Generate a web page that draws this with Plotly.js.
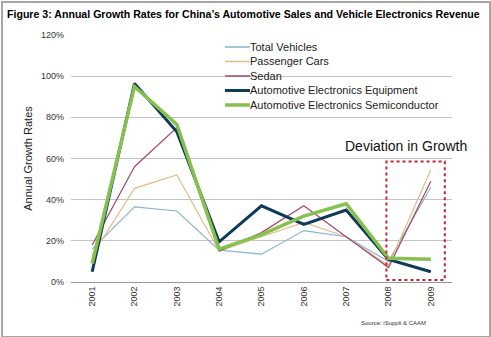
<!DOCTYPE html>
<html>
<head>
<meta charset="utf-8">
<script src="https://cdn.plot.ly/plotly-3.0.1.min.js"></script>
<style>
html,body{margin:0;padding:0;background:#fff;}
#wrap{position:relative;width:491px;height:337px;}
#chart{width:491px;height:337px;}
#frame{position:absolute;left:1px;top:1px;width:486px;height:333px;border:2px solid #a6a6a6;pointer-events:none;}
</style>
</head>
<body>
<div id="wrap"><div id="chart"></div><div id="frame"></div></div>
<script>
const years = ['2001','2002','2003','2004','2005','2006','2007','2008','2009'];
const totalVehicles = [16, 36.5, 34.5, 15.5, 13.5, 25, 22, 10, 46];
const passengerCars = [13, 45.5, 52, 15, 22, 29, 22, 8, 54.5];
const sedan = [18, 56, 75, 15, 24, 37, 22, 7, 49];
const elecEquipment = [5, 96.5, 73, 19.5, 37, 28, 35, 11, 5];
const elecSemis = [9, 95, 76.5, 16, 23, 32, 38, 11.5, 11];

const seriesNames = ['Total Vehicles','Passenger Cars','Sedan','Automotive Electronics Equipment','Automotive Electronics Semiconductor'];
const seriesData = [totalVehicles, passengerCars, sedan, elecEquipment, elecSemis];
const colors = ['#86b6cc','#e2bc88','#a24a6a','#0f3a58','#86c04e'];
const widths = [1.2, 1.2, 1.2, 3, 3.5];

const traces = seriesData.map((d,i)=>({
  x: years, y: d, type:'scatter', mode:'lines', name: seriesNames[i],
  line:{color:colors[i], width:widths[i]}, showlegend:false
}));

// plot-area pixel helpers (for legend placement only)
const L=71, R=452, T=35, B=282;
const px = v => (v-L)/(R-L);
const py = v => (B-v)/(B-T);

const shapes = [
  {type:'rect', xref:'paper', yref:'paper', x0:px(212), x1:px(447), y0:py(112), y1:py(38),
    fillcolor:'#fff', line:{width:0}, layer:'between'},
  {type:'rect', xref:'x', yref:'y', x0:6.95, x1:8.33, y0:1, y1:58.5,
    line:{color:'#c0272d', width:2, dash:'dot'}}
];
const annotations = [
  {text:'Deviation in Growth', xref:'paper', yref:'paper', x:px(469), y:py(146), xanchor:'right', yanchor:'middle',
    showarrow:false, font:{size:14,color:'#111'}},
  {text:'Source: iSuppli & CAAM', xref:'paper', yref:'paper', x:0.938, y:-0.166, xanchor:'right', yanchor:'middle',
    showarrow:false, font:{size:6,color:'#333'}}
];
const rowY = [47, 61.5, 76, 90.5, 105];
seriesNames.forEach((n,i)=>{
  shapes.push({type:'line', xref:'paper', yref:'paper', x0:px(225), x1:px(250), y0:py(rowY[i]), y1:py(rowY[i]),
    line:{color:colors[i], width:widths[i]===1.2?1.5:widths[i]}});
  annotations.push({text:n, xref:'paper', yref:'paper', x:px(250), y:py(rowY[i]), xanchor:'left', yanchor:'middle',
    showarrow:false, font:{size:11,color:'#222'}, xshift:-2});
});

const layout = {
  width:491, height:337,
  margin:{l:71, r:39, t:35, b:55},
  paper_bgcolor:'#fff', plot_bgcolor:'#fff',
  font:{family:'Arial, Liberation Sans, sans-serif', color:'#333'},
  title:{text:'<b>Figure 3: Annual Growth Rates for China\u2019s Automotive Sales and Vehicle Electronics Revenue</b>',
    font:{size:10.6, color:'#000'}, x:7/491, xanchor:'left', xref:'container', y:0.957, yanchor:'middle', yref:'container'},
  xaxis:{type:'category', range:[-0.5,8.5], tickangle:-90, tickfont:{size:9,color:'#333'},
    showgrid:false, showline:true, linecolor:'#999', ticks:'', zeroline:false, fixedrange:true},
  yaxis:{range:[0,120], dtick:20, ticksuffix:'%', tickfont:{size:9,color:'#333'},
    gridcolor:'#c4c4c4', gridwidth:1, zeroline:false, showline:false, ticklabelstandoff:6,
    title:{text:'Annual Growth Rates', font:{size:11,color:'#222'}, standoff:6}},
  showlegend:false,
  shapes: shapes,
  annotations: annotations
};
Plotly.newPlot('chart', traces, layout, {displayModeBar:false, staticPlot:true});
</script>
</body>
</html>
